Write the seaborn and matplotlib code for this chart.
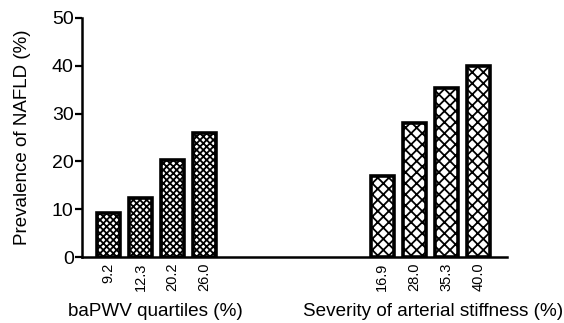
import matplotlib
matplotlib.use("Agg")
import matplotlib.pyplot as plt
import seaborn as sns
import pandas as pd

# Data
quartile_labels = ["9.2", "12.3", "20.2", "26.0"]
quartile_values = [9.2, 12.3, 20.2, 26.0]
severity_labels = ["16.9", "28.0", "35.3", "40.0"]
severity_values = [16.9, 28.0, 35.3, 40.0]
quartile_pos = [0, 1, 2, 3]
severity_pos = [8.55, 9.55, 10.55, 11.55]
y_ticks = [0, 10, 20, 30, 40, 50]
y_label = "Prevalence of NAFLD (%)"
group_labels = ["baPWV quartiles (%)", "Severity of arterial stiffness (%)"]

sns.set_style("ticks")
plt.rcParams["font.family"] = ["Liberation Sans", "DejaVu Sans"]
plt.rcParams["hatch.color"] = "black"
plt.rcParams["hatch.linewidth"] = 1.3
for k in ["text.color", "axes.labelcolor", "xtick.color", "ytick.color", "axes.edgecolor"]:
    plt.rcParams[k] = "black"

fig = plt.figure(figsize=(5.64, 3.23), dpi=100)
ax = fig.add_axes([82/564, (323-257)/323, (507-82)/564, (257-18)/323])

df1 = pd.DataFrame({"x": quartile_pos, "y": quartile_values})
df2 = pd.DataFrame({"x": severity_pos, "y": severity_values})

sns.barplot(data=df1, x="x", y="y", native_scale=True, width=0.72,
            color="white", edgecolor="black", linewidth=2.6, ax=ax)
n1 = len(ax.patches)
sns.barplot(data=df2, x="x", y="y", native_scale=True, width=0.72,
            color="white", edgecolor="black", linewidth=2.6, ax=ax)
for i, p in enumerate(ax.patches):
    p.set_facecolor("white")
    p.set_hatch("xxxxx" if i < n1 else "xxx")

ax.set_xlim(-0.834, 12.45)
ax.set_ylim(0, 50)
ax.set_yticks(y_ticks)
ax.set_xticks(quartile_pos + severity_pos)
ax.set_xticklabels(quartile_labels + severity_labels, rotation=90, fontsize=10.5)
ax.tick_params(axis="x", length=0, pad=4)
ax.tick_params(axis="y", length=5, width=1.6, labelsize=14, pad=1)
for s in ["left", "bottom"]:
    ax.spines[s].set_linewidth(1.8)
for s in ["top", "right"]:
    ax.spines[s].set_visible(False)
ax.set_xlabel("")
ax.set_ylabel(y_label, fontsize=13.5, labelpad=15)

fig.text(155/564, 1 - 311/323, group_labels[0], ha="center", va="center", fontsize=13.6)
fig.text(433/564, 1 - 311/323, group_labels[1], ha="center", va="center", fontsize=13.6)

fig.savefig("out.png", dpi=100)
